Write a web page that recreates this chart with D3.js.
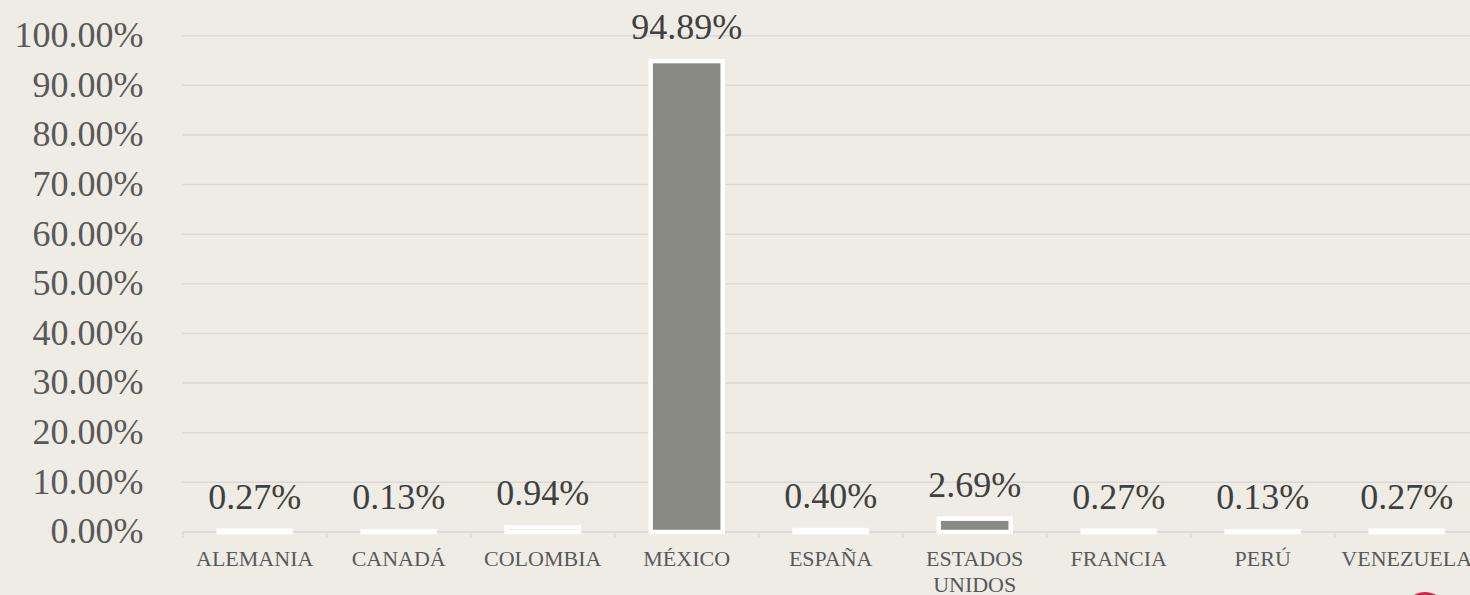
<!DOCTYPE html>
<html><head><meta charset="utf-8">
<script src="https://cdn.jsdelivr.net/npm/d3@7/dist/d3.min.js"></script>
<style>
html,body{margin:0;padding:0;background:#EFECE5;}
svg{display:block;}
</style></head>
<body>
<svg id="chart" width="1470" height="595"></svg>
<script>
const categories = ["ALEMANIA","CANADÁ","COLOMBIA","MÉXICO","ESPAÑA","ESTADOS UNIDOS","FRANCIA","PERÚ","VENEZUELA"];
const values = [0.27,0.13,0.94,94.89,0.40,2.69,0.27,0.13,0.27];
const valueLabels = ["0.27%","0.13%","0.94%","94.89%","0.40%","2.69%","0.27%","0.13%","0.27%"];
const yTicks = [0,10,20,30,40,50,60,70,80,90,100];

const svg = d3.select("#chart");
const W = 1470, H = 595;
const font = "'Liberation Serif', 'Times New Roman', serif";
svg.append("rect").attr("width", W).attr("height", H).attr("fill", "#EFECE5");

const x = d3.scaleBand().domain(categories).range([182.7, 1478.7]).paddingInner(0.5).paddingOuter(0.25);
const y = d3.scaleLinear().domain([0, 100]).range([532, 35.7]);

// gridlines
svg.append("g").selectAll("line").data(yTicks.filter(d => d > 0)).join("line")
  .attr("x1", 182.7).attr("x2", 1478.7)
  .attr("y1", d => y(d)).attr("y2", d => y(d))
  .attr("stroke", "#D9D9D9").attr("stroke-width", 1.5);

// y axis labels
const yAxis = d3.axisLeft(y).tickValues(yTicks).tickSize(0).tickPadding(0)
  .tickFormat(d => d.toFixed(2) + "%");
const gy = svg.append("g").attr("transform", "translate(143.5,0)").call(yAxis);
gy.select(".domain").remove();
gy.selectAll("text").attr("font-family", font).attr("font-size", 36).attr("fill", "#595959").attr("dy", "0.3em");

// x axis
const boundaries = d3.range(categories.length + 1).map(i => 182.7 + i * x.step());
const xAxis = d3.axisBottom(x).tickSize(0).tickPadding(0).tickFormat("");
const gx = svg.append("g").attr("transform", `translate(0,${y(0)})`).call(xAxis);
gx.select(".domain").remove();
gx.append("line").attr("x1", 182.7).attr("x2", 1478.7).attr("y1", 0).attr("y2", 0)
  .attr("stroke", "#D9D9D9").attr("stroke-width", 1.5);
gx.selectAll(".bound").data(boundaries).join("line").attr("class", "bound")
  .attr("x1", d => d).attr("x2", d => d).attr("y1", 0).attr("y2", 6)
  .attr("stroke", "#D9D9D9").attr("stroke-width", 1.5);

// bars
svg.append("g").selectAll("rect").data(categories).join("rect")
  .attr("x", d => x(d))
  .attr("width", x.bandwidth())
  .attr("y", (d, i) => y(values[i]))
  .attr("height", (d, i) => y(0) - y(values[i]))
  .attr("fill", "#898A84")
  .attr("stroke", "#FFFFFF").attr("stroke-width", 4.5);

// value labels
svg.append("g").selectAll("text").data(categories).join("text")
  .attr("x", d => x(d) + x.bandwidth() / 2)
  .attr("y", (d, i) => y(values[i]) - 22)
  .attr("text-anchor", "middle")
  .attr("font-family", font).attr("font-size", 36).attr("fill", "#404040")
  .text((d, i) => valueLabels[i]);

// category labels (wrapped)
const catG = svg.append("g");
categories.forEach(c => {
  const words = c.split(" ");
  const t = catG.append("text")
    .attr("x", x(c) + x.bandwidth() / 2).attr("y", 565.7)
    .attr("text-anchor", "middle")
    .attr("font-family", font).attr("font-size", 22).attr("fill", "#595959");
  words.forEach((w, i) => {
    t.append("tspan").attr("x", x(c) + x.bandwidth() / 2).attr("dy", i === 0 ? 0 : 26).text(w);
  });
});

// partial red logo at bottom right
svg.append("circle").attr("cx", 1425).attr("cy", 614).attr("r", 22).attr("fill", "#D6204F");
</script>
</body></html>
